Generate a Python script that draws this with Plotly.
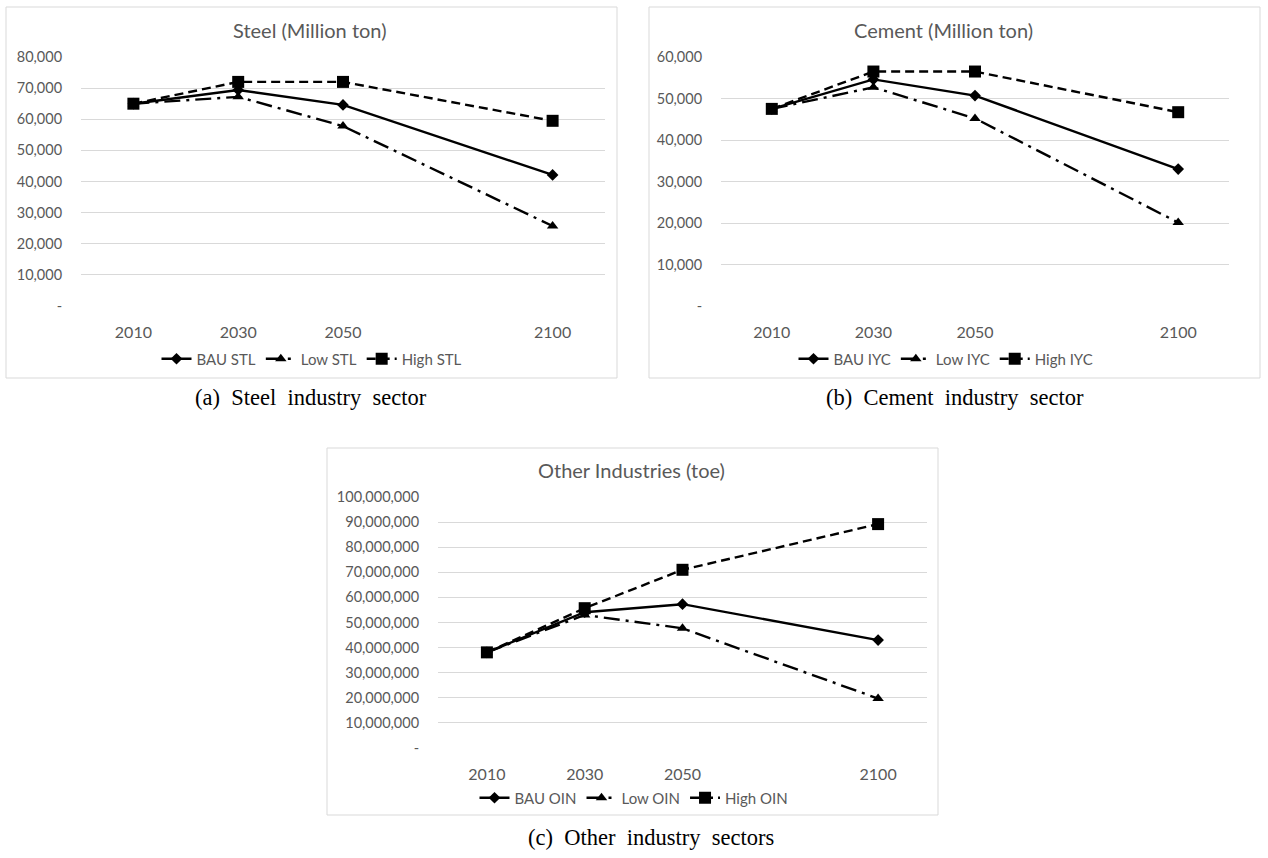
import plotly.graph_objects as go

# ---------------- data ----------------
years = ["2010", "2030", "2050", "2100"]
axis_categories = ["2010", "2030", "2050", " ", "2100"]

steel_bau = [65000, 69400, 64600, 42100]
steel_low = [65000, 67200, 57800, 25700]
steel_high = [65000, 72000, 72000, 59500]

cement_bau = [47500, 54600, 50700, 33000]
cement_low = [47500, 52700, 45200, 20100]
cement_high = [47500, 56500, 56500, 46700]

other_bau = [38100000, 54100000, 57300000, 43000000]
other_low = [38100000, 53000000, 47700000, 19700000]
other_high = [38100000, 55700000, 71000000, 89200000]

steel_ticks = [0, 10000, 20000, 30000, 40000, 50000, 60000, 70000, 80000]
cement_ticks = [0, 10000, 20000, 30000, 40000, 50000, 60000]
other_ticks = [0, 10000000, 20000000, 30000000, 40000000, 50000000,
               60000000, 70000000, 80000000, 90000000, 100000000]

panels = [
    dict(title="Steel (Million ton)", caption="(a)\u00a0 Steel\u00a0 industry\u00a0 sector",
         names=["BAU STL", "Low STL", "High STL"], series=[steel_bau, steel_low, steel_high],
         ticks=steel_ticks),
    dict(title="Cement (Million ton)", caption="(b)\u00a0 Cement\u00a0 industry\u00a0 sector",
         names=["BAU IYC", "Low IYC", "High IYC"], series=[cement_bau, cement_low, cement_high],
         ticks=cement_ticks),
    dict(title="Other Industries (toe)", caption="(c)\u00a0 Other\u00a0 industry\u00a0 sectors",
         names=["BAU OIN", "Low OIN", "High OIN"], series=[other_bau, other_low, other_high],
         ticks=other_ticks),
]

# ---------------- layout geometry (pixels) ----------------
W, H = 1268, 858
plot_px = [  # x0, x1, y_top, y_bottom
    (81, 605, 57, 306),
    (721, 1229, 57, 306),
    (438, 927, 497, 748),
]
frame_px = [(6, 617, 7, 378), (649, 1260, 7, 378), (327, 938, 448, 815)]
title_px = [(310, 30), (943, 30), (631, 470)]
legend_px = [(312, 359), (946, 359), (634, 798)]
caption_px = [(311, 398), (955, 398), (651, 837)]

def fx(px):
    return px / W

def fy(py):
    return 1 - py / H

styles = [
    dict(dash="solid", symbol="diamond", size=9),
    dict(dash="16px,6px,3px,6px", symbol="triangle-up", size=10),
    dict(dash="9px,5px", symbol="square", size=12),
]

GRAY = "#595959"
GRID = "#d9d9d9"
FONT = "Lato, 'Open Sans', sans-serif"

fig = go.Figure()
legend_names = ["legend", "legend2", "legend3"]

for i, p in enumerate(panels):
    xa = "x" if i == 0 else f"x{i+1}"
    ya = "y" if i == 0 else f"y{i+1}"
    for name, vals, st in zip(p["names"], p["series"], styles):
        fig.add_trace(go.Scatter(
            x=years, y=vals, name=name, mode="lines+markers",
            xaxis=xa, yaxis=ya, legend=legend_names[i],
            line=dict(color="black", width=2.4, dash=st["dash"]),
            marker=dict(color="black", symbol=st["symbol"], size=st["size"]),
        ))

layout = dict(
    width=W, height=H, margin=dict(l=0, r=0, t=0, b=0, autoexpand=False),
    paper_bgcolor="white", plot_bgcolor="white",
    font=dict(family=FONT, color=GRAY, size=14),
    annotations=[], shapes=[],
)

for i, p in enumerate(panels):
    x0, x1, yt, yb = plot_px[i]
    suffix = "" if i == 0 else str(i + 1)
    ticks = p["ticks"]
    ticktext = ["-" if v == 0 else f"{v:,}" for v in ticks]
    layout["xaxis" + suffix] = dict(
        domain=[fx(x0), fx(x1)], anchor="y" + suffix, type="category",
        categoryorder="array", categoryarray=axis_categories,
        range=[-0.5, len(axis_categories) - 0.5],
        showgrid=False, zeroline=False, showline=False, automargin=False,
        ticks="outside", ticklen=12, tickcolor="rgba(0,0,0,0)",
        tickfont=dict(size=16, color=GRAY, family=FONT), fixedrange=True,
    )
    layout["yaxis" + suffix] = dict(
        domain=[fy(yb), fy(yt)], anchor="x" + suffix,
        range=[0, ticks[-1]], tickvals=ticks, ticktext=ticktext,
        showgrid=True, gridcolor=GRID, gridwidth=1, zeroline=False, showline=False,
        automargin=False,
        ticks="outside", ticklen=15, tickcolor="rgba(0,0,0,0)",
        tickfont=dict(size=14.5, color=GRAY, family=FONT), fixedrange=True,
    )
    lx, ly = legend_px[i]
    layout[legend_names[i]] = dict(
        orientation="h", x=fx(lx), y=fy(ly), xanchor="center", yanchor="middle",
        font=dict(size=15, color=GRAY, family=FONT), bgcolor="rgba(0,0,0,0)",
        itemwidth=30, tracegroupgap=0,
    )
    tx, ty = title_px[i]
    layout["annotations"].append(dict(
        text=p["title"], x=fx(tx), y=fy(ty), xref="paper", yref="paper",
        xanchor="center", yanchor="middle", showarrow=False,
        font=dict(size=20, color=GRAY, family=FONT),
    ))
    cx, cy = caption_px[i]
    layout["annotations"].append(dict(
        text=p["caption"], x=fx(cx), y=fy(cy), xref="paper", yref="paper",
        xanchor="center", yanchor="middle", showarrow=False,
        font=dict(size=22.5, color="black", family="'Liberation Serif', 'Times New Roman', serif"),
    ))
    fx0, fx1, fy0, fy1 = frame_px[i]
    layout["shapes"].append(dict(
        type="rect", xref="paper", yref="paper",
        x0=fx(fx0), x1=fx(fx1), y0=fy(fy1), y1=fy(fy0),
        line=dict(color=GRID, width=1), fillcolor="rgba(0,0,0,0)", layer="below",
    ))

fig.update_layout(**layout)
fig.write_html(
    "out.html",
    config={"displayModeBar": False},
    post_script="document.body.style.margin='0';document.body.style.overflow='hidden';",
)
